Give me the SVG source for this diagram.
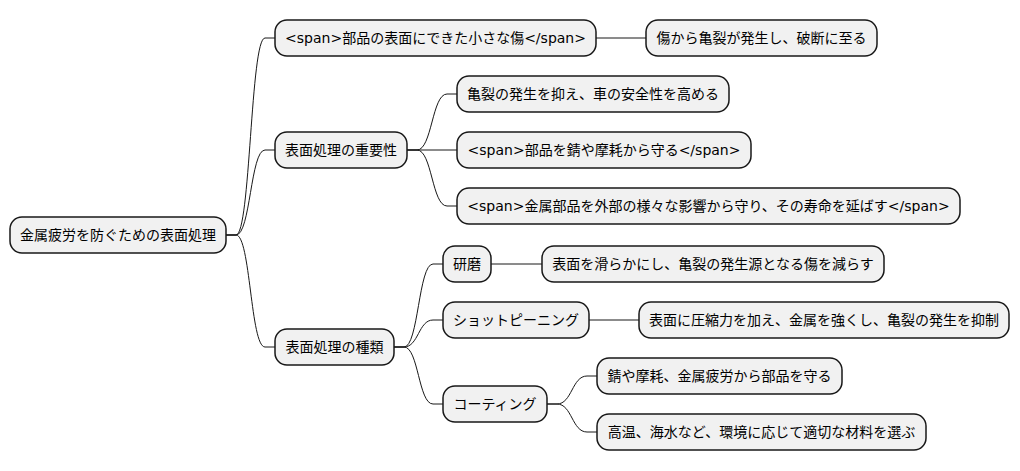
<svg xmlns="http://www.w3.org/2000/svg" width="1020" height="471" viewBox="0 0 1020 471">
<style>
.n rect{fill:#f1f1f1;stroke:#181818;stroke-width:1.5}
.n text{font-family:"DejaVu Sans","Noto Sans CJK JP",sans-serif;font-size:14px;fill:#000;text-anchor:middle}
#connectors path{fill:none;stroke:#181818;stroke-width:1}
</style>
<rect width="1020" height="471" fill="#fff"/>
<g id="connectors">
<path d="M226,235 H236 C250.5,235 250.5,38 265,38 H275"/>
<path d="M226,235 H236 C250.5,235 250.5,150 265,150 H275"/>
<path d="M226,235 H236 C250.5,235 250.5,347 265,347 H275"/>
<path d="M596,38 H646"/>
<path d="M407,150 H417 C432,150 432,94 447,94 H457"/>
<path d="M407,150 H457"/>
<path d="M407,150 H417 C432,150 432,206 447,206 H457"/>
<path d="M394,347 H404 C418.5,347 418.5,264 433,264 H443"/>
<path d="M394,347 H404 C418.5,347 418.5,320 433,320 H443"/>
<path d="M394,347 H404 C418.5,347 418.5,404 433,404 H443"/>
<path d="M491,264 H542"/>
<path d="M589,320 H639"/>
<path d="M547,404 H557 C572,404 572,376 587,376 H597"/>
<path d="M547,404 H557 C572,404 572,432 587,432 H597"/>
</g>
<g id="root" class="n"><rect x="10" y="217" width="216" height="36" rx="12"/><text x="118" y="240">金属疲労を防ぐための表面処理</text></g>
<g id="n1" class="n"><rect x="275" y="20" width="321" height="36" rx="12"/><text x="435.5" y="43">&lt;span&gt;部品の表面にできた小さな傷&lt;/span&gt;</text></g>
<g id="n1a" class="n"><rect x="646" y="20" width="231" height="36" rx="12"/><text x="761.5" y="43">傷から亀裂が発生し、破断に至る</text></g>
<g id="n2" class="n"><rect x="275" y="132" width="132" height="36" rx="12"/><text x="341" y="155">表面処理の重要性</text></g>
<g id="n2a" class="n"><rect x="457" y="76" width="272" height="36" rx="12"/><text x="593" y="99">亀裂の発生を抑え、車の安全性を高める</text></g>
<g id="n2b" class="n"><rect x="457" y="132" width="294" height="36" rx="12"/><text x="604" y="155">&lt;span&gt;部品を錆や摩耗から守る&lt;/span&gt;</text></g>
<g id="n2c" class="n"><rect x="457" y="188" width="503" height="36" rx="12"/><text x="708.5" y="211">&lt;span&gt;金属部品を外部の様々な影響から守り、その寿命を延ばす&lt;/span&gt;</text></g>
<g id="n3" class="n"><rect x="275" y="329" width="119" height="36" rx="12"/><text x="334.5" y="352">表面処理の種類</text></g>
<g id="n3a" class="n"><rect x="443" y="246" width="48" height="36" rx="12"/><text x="467" y="269">研磨</text></g>
<g id="n3a1" class="n"><rect x="542" y="246" width="342" height="36" rx="12"/><text x="713" y="269">表面を滑らかにし、亀裂の発生源となる傷を減らす</text></g>
<g id="n3b" class="n"><rect x="443" y="302" width="146" height="36" rx="12"/><text x="516" y="325">ショットピーニング</text></g>
<g id="n3b1" class="n"><rect x="639" y="302" width="370" height="36" rx="12"/><text x="824" y="325">表面に圧縮力を加え、金属を強くし、亀裂の発生を抑制</text></g>
<g id="n3c" class="n"><rect x="443" y="386" width="104" height="36" rx="12"/><text x="495" y="409">コーティング</text></g>
<g id="n3c1" class="n"><rect x="597" y="358" width="245" height="36" rx="12"/><text x="719.5" y="381">錆や摩耗、金属疲労から部品を守る</text></g>
<g id="n3c2" class="n"><rect x="597" y="414" width="329" height="36" rx="12"/><text x="761.5" y="437">高温、海水など、環境に応じて適切な材料を選ぶ</text></g>
</svg>
